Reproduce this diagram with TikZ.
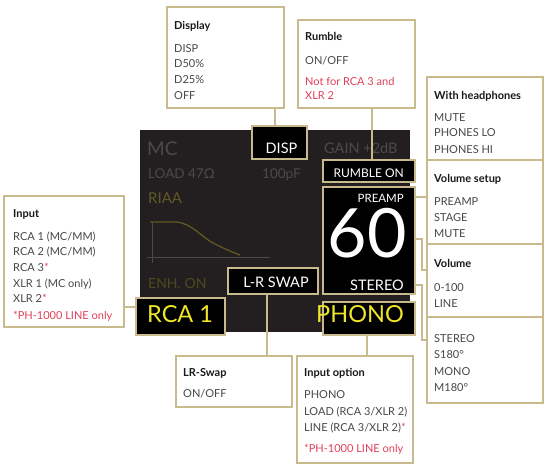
\documentclass[tikz,border=0pt]{standalone}
\usepackage{fontspec}
\setmainfont{Lato}
\definecolor{tan}{RGB}{200,186,140}
\definecolor{scr}{RGB}{35,31,32}
\definecolor{dimg}{RGB}{78,73,73}
\definecolor{olive}{RGB}{96,89,36}
\definecolor{olivedim}{RGB}{78,73,30}
\definecolor{yel}{RGB}{238,230,40}
\definecolor{itemc}{RGB}{72,72,72}
\definecolor{titc}{RGB}{25,25,25}
\definecolor{redc}{RGB}{226,64,88}
\begin{document}
\begin{tikzpicture}[x=1pt,y=-1pt,
  obox/.style={draw=tan, line width=1.8pt, fill=white, inner sep=0pt},
  sbox/.style={draw=tan, line width=1.8pt, fill=black, inner sep=0pt},
  conn/.style={draw=tan, line width=1.8pt},
  tit/.style={anchor=base west, inner sep=0pt, font=\fontsize{11}{13}\selectfont\bfseries, text=titc},
  itm/.style={anchor=base west, inner sep=0pt, font=\fontsize{11}{13}\selectfont, text=itemc},
  note/.style={anchor=base west, inner sep=0pt, font=\fontsize{11}{13}\selectfont, text=redc},
  stx/.style={inner sep=0pt, text=white}]
\useasboundingbox (0,0) rectangle (550,467);
% screen
\fill[scr] (140,130) rectangle (410,332);
\node[stx, anchor=base west, text=dimg, font=\fontsize{19}{20}\selectfont] (mc) at (147,155) {MC};
\node[stx, anchor=base west, text=dimg, font=\fontsize{14.5}{16}\selectfont] (gain) at (324,153) {GAIN +2dB};
\node[stx, anchor=base west, text=dimg, font=\fontsize{13.5}{15}\selectfont] (load) at (148,178) {LOAD 47Ω};
\node[stx, anchor=base west, text=dimg, font=\fontsize{13.5}{15}\selectfont] (pf) at (262,178) {100pF};
\node[stx, anchor=base west, text=olive, font=\fontsize{15}{16}\selectfont] (riaa) at (148,203) {RIAA};
\node[stx, anchor=base west, text=olivedim, font=\fontsize{14}{16}\selectfont] (enh) at (148,288) {ENH. ON};
\draw[dimg, line width=0.8pt] (152,222) -- (152,263);
\draw[dimg, line width=0.8pt] (147,257) -- (270,257);
\draw[olive, line width=1.3pt] (150,222) -- (176,222) .. controls (192,223) and (202,238) .. (215,244) .. controls (225,249) and (232,252) .. (240,255);
% boxes on screen
\node[sbox, minimum width=55, minimum height=33] (disp) at (279.5,142.5) {};
\node[sbox, minimum width=92, minimum height=22] (rumbleon) at (369,171) {};
\node[sbox, minimum width=92, minimum height=107] (preamp) at (369,240.5) {};
\node[sbox, minimum width=92, minimum height=33] (phono) at (369,318.5) {};
\node[sbox, minimum width=89, minimum height=37] (rca) at (180.5,316.5) {};
\node[sbox, minimum width=90, minimum height=26] (lrsw) at (273,281) {};
\node[stx, anchor=base, font=\fontsize{14.5}{16}\selectfont] (disptx) at (281.5,153) {DISP};
\node[stx, anchor=base east, font=\fontsize{12}{14}\selectfont] (rumtx) at (404,177) {RUMBLE ON};
\node[stx, anchor=base east, font=\fontsize{11.5}{13}\selectfont] (pretx) at (404,202) {PREAMP};
\node[stx, anchor=base, font=\fontsize{68}{70}\selectfont] (sixty) at (367,257) {60};
\node[stx, anchor=base east, font=\fontsize{14.5}{16}\selectfont] (sttx) at (404,290) {STEREO};
\node[stx, anchor=base, font=\fontsize{14.5}{16}\selectfont] (lrtx) at (276,287) {L-R SWAP};
\node[stx, anchor=base west, text=yel, font=\fontsize{23.5}{25}\selectfont] (rcatx) at (147,322) {RCA 1};
\node[stx, anchor=base east, text=yel, font=\fontsize{23.5}{25}\selectfont] (photx) at (404,322) {PHONO};
% outer boxes
\node[obox, minimum width=117, minimum height=101] (display) at (225.5,57.5) {};
\node[obox, minimum width=117, minimum height=88] (rumble) at (356.5,64) {};
\node[obox, minimum width=120, minimum height=131] (input) at (64,261.5) {};
\node[obox, minimum width=116, minimum height=51] (lrbox) at (234,381.5) {};
\node[obox, minimum width=116, minimum height=107] (inopt) at (355,409.5) {};
\node[obox, minimum width=116, minimum height=83] (head) at (485,118.5) {};
\node[obox, minimum width=116, minimum height=84] (volsetup) at (485,202) {};
\node[obox, minimum width=116, minimum height=73] (volume) at (485,280.5) {};
\node[obox, minimum width=116, minimum height=86] (stereo) at (485,360) {};
% box texts
\node[tit] (t1) at (174,29) {Display};
\node[itm] (d1) at (174,52) {DISP};
\node[itm] (d2) at (174,67.5) {D50\%};
\node[itm] (d3) at (174,83) {D25\%};
\node[itm] (d4) at (174,99) {OFF};
\node[tit] (t2) at (305,40) {Rumble};
\node[itm] (r1) at (305,64) {ON/OFF};
\node[note] (r2) at (305,85) {Not for RCA 3 and};
\node[note] (r3) at (305,99.5) {XLR 2};
\node[tit] (t3) at (13,217) {Input};
\node[itm] (i1) at (13,240) {RCA 1 (MC/MM)};
\node[itm] (i2) at (13,255.5) {RCA 2 (MC/MM)};
\node[itm] (i3) at (13,271) {RCA 3\textcolor{redc}{*}};
\node[itm] (i4) at (13,287) {XLR 1 (MC only)};
\node[itm] (i5) at (13,302.5) {XLR 2\textcolor{redc}{*}};
\node[note] (i6) at (13,319) {*PH-1000 LINE only};
\node[tit] (t4) at (434,99) {With headphones};
\node[itm] (h1) at (434,121) {MUTE};
\node[itm] (h2) at (434,136.5) {PHONES LO};
\node[itm] (h3) at (434,153) {PHONES HI};
\node[tit] (t5) at (434,182) {Volume setup};
\node[itm] (v1) at (434,205) {PREAMP};
\node[itm] (v2) at (434,221) {STAGE};
\node[itm] (v3) at (434,237) {MUTE};
\node[tit] (t6) at (434,267) {Volume};
\node[itm] (w1) at (434,291) {0-100};
\node[itm] (w2) at (434,307) {LINE};
\node[itm] (s1) at (434,342) {STEREO};
\node[itm] (s2) at (434,358) {S180°};
\node[itm] (s3) at (434,375) {MONO};
\node[itm] (s4) at (434,391) {M180°};
\node[tit] (t7) at (183,376) {LR-Swap};
\node[itm] (l1) at (183,397) {ON/OFF};
\node[tit] (t8) at (304,376) {Input option};
\node[itm] (o1) at (304,398) {PHONO};
\node[itm] (o2) at (304,415) {LOAD (RCA 3/XLR 2)};
\node[itm] (o3) at (304,431) {LINE (RCA 3/XLR 2)\textcolor{redc}{*}};
\node[note] (o4) at (304,452) {*PH-1000 LINE only};
% connectors
\coordinate (cdisp) at (275,0);
\coordinate (crum) at (372,0);
\coordinate (cin) at (0,307);
\coordinate (clr) at (267,0);
\coordinate (cph) at (367,0);
\coordinate (cvs) at (0,197);
\coordinate (cv1) at (0,239);
\coordinate (cv2) at (0,270);
\coordinate (cs1) at (0,285);
\coordinate (cs2) at (0,340);
\coordinate (cx) at (422,0);
\draw[conn] (display.south -| cdisp) -- (disp.north -| cdisp);
\draw[conn] (rumble.south -| crum) -- (rumbleon.north -| crum);
\draw[conn] (input.east |- cin) -- (rca.west |- cin);
\draw[conn] (lrsw.south -| clr) -- (lrbox.north -| clr);
\draw[conn] (phono.south -| cph) -- (inopt.north -| cph);
\draw[conn] (preamp.east |- cvs) -- (volsetup.west |- cvs);
\draw[conn] (preamp.east |- cv1) -| (cx |- cv2) -- (volume.west |- cv2);
\draw[conn] (preamp.east |- cs1) -| (cx |- cs2) -- (stereo.west |- cs2);
\end{tikzpicture}
\end{document}
